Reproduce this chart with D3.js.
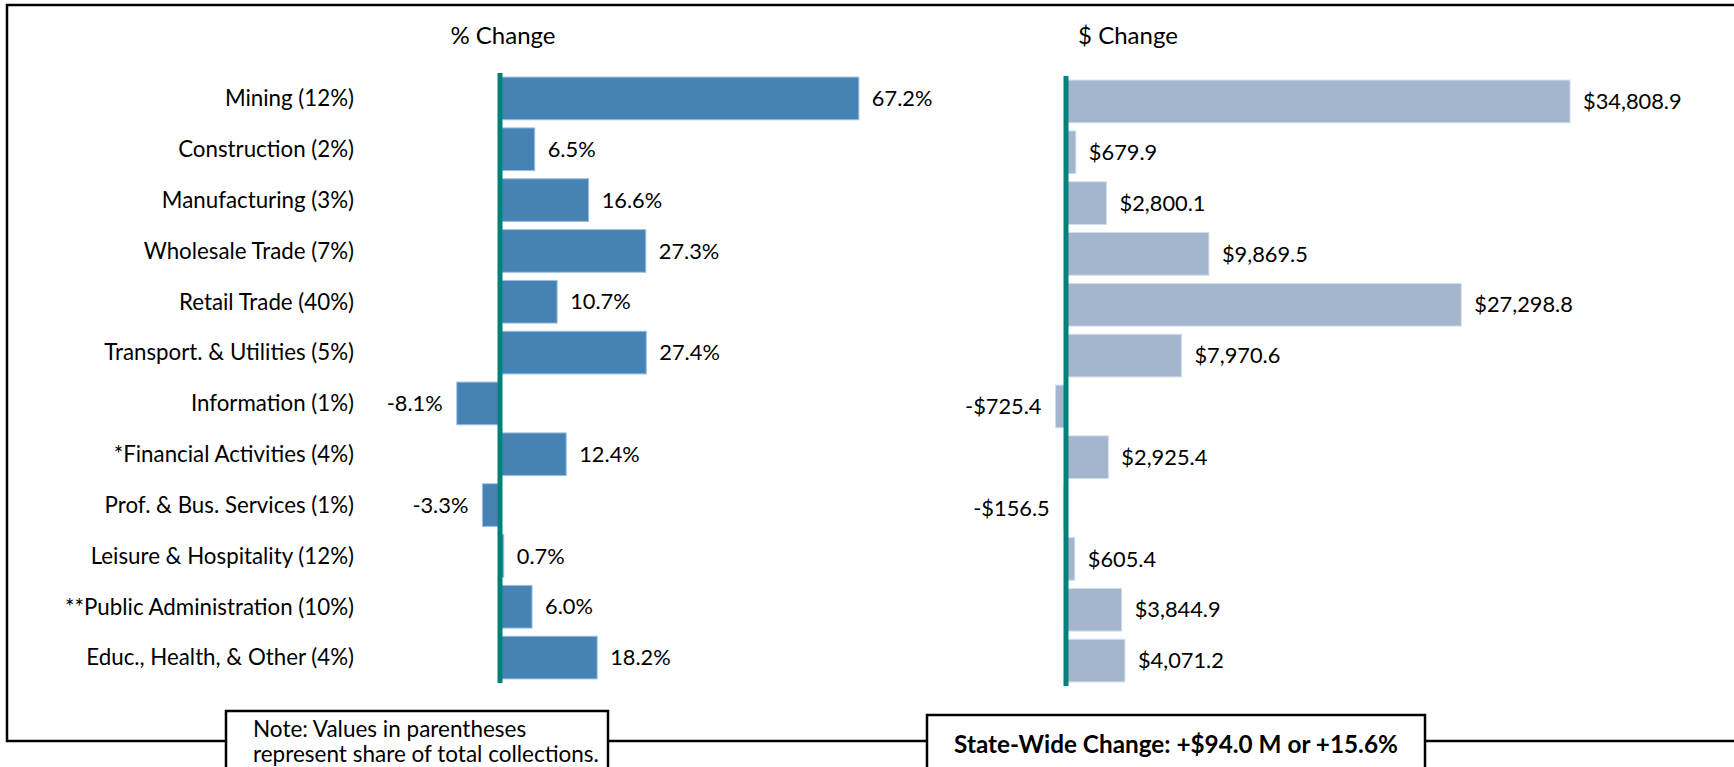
<!DOCTYPE html>
<html>
<head>
<meta charset="utf-8">
<script src="https://cdn.jsdelivr.net/npm/d3@7"></script>
<style>
  body { margin: 0; background: #fff; }
  text { font-family: Lato, "Open Sans", sans-serif; fill: #000; }
</style>
</head>
<body>
<div id="chart-container"></div>
<script>
// Chart data
const categories = [
  "Mining (12%)",
  "Construction (2%)",
  "Manufacturing (3%)",
  "Wholesale Trade (7%)",
  "Retail Trade (40%)",
  "Transport. & Utilities (5%)",
  "Information (1%)",
  "*Financial Activities (4%)",
  "Prof. & Bus. Services (1%)",
  "Leisure & Hospitality (12%)",
  "**Public Administration (10%)",
  "Educ., Health, & Other (4%)"
];
const pctChange = [67.2, 6.5, 16.6, 27.3, 10.7, 27.4, -8.1, 12.4, -3.3, 0.7, 6.0, 18.2];
const dollarChange = [34808.9, 679.9, 2800.1, 9869.5, 27298.8, 7970.6, -725.4, 2925.4, -156.5, 605.4, 3844.9, 4071.2];
const titles = ["% Change", "$ Change"];
const noteLines = ["Note: Values in parentheses", "represent share of total collections."];
const totalText = "State-Wide Change: +$94.0 M or +15.6%";

window.onload = () => {
  const width = 1734, height = 767;

  const svg = d3
    .select("#chart-container")
    .append("svg")
    .attr("width", width)
    .attr("height", height);

  // Outer frame (right edge runs off the picture)
  svg.append("rect")
    .attr("x", 7).attr("y", 5)
    .attr("width", 1800).attr("height", 736)
    .attr("fill", "none")
    .attr("stroke", "#000")
    .attr("stroke-width", 2.5);

  const rows = categories.map((c, i) => ({ cat: c, pct: pctChange[i], usd: dollarChange[i] }));

  // Scales
  const yLeft = d3.scaleBand().domain(categories).range([73, 683])
    .paddingInner(0.16).paddingOuter(0.08);
  const yRight = d3.scaleBand().domain(categories).range([76, 686])
    .paddingInner(0.16).paddingOuter(0.08);
  const xPct = d3.scaleLinear().domain([-10, 70]).range([500 - 53.4, 500 + 373.8]);
  const xUsd = d3.scaleLinear().domain([-5000, 35000]).range([1066 - 72.4, 1066 + 506.8]);

  // plain hyphen for negatives, like the source
  const fmtPct = (d) => (d < 0 ? "-" : "") + d3.format(".1f")(Math.abs(d)) + "%";
  const fmtUsd = (d) => (d < 0 ? "-" : "") + "$" + d3.format(",.1f")(Math.abs(d));

  // Category labels
  svg.append("g")
    .selectAll("text")
    .data(rows)
    .enter()
    .append("text")
    .attr("x", 354)
    .attr("y", (d) => yLeft(d.cat) + yLeft.bandwidth() / 2)
    .attr("dy", "0.35em")
    .attr("text-anchor", "end")
    .style("font-size", "22.3px")
    .text((d) => d.cat);

  function panel(key, x, y, fill, stroke, fmt, title, titleX) {
    const g = svg.append("g");

    g.append("text")
      .attr("x", titleX).attr("y", 44)
      .attr("text-anchor", "middle")
      .style("font-size", "24px")
      .text(title);

    g.selectAll(".bar")
      .data(rows)
      .enter()
      .append("rect")
      .attr("class", "bar")
      .attr("x", (d) => x(Math.min(0, d[key])))
      .attr("y", (d) => y(d.cat))
      .attr("width", (d) => Math.abs(x(d[key]) - x(0)))
      .attr("height", y.bandwidth())
      .attr("fill", fill)
      .attr("stroke", stroke)
      .attr("stroke-width", 1);

    g.selectAll(".bar-label")
      .data(rows)
      .enter()
      .append("text")
      .attr("class", "bar-label")
      .attr("x", (d) => d[key] < 0 ? x(d[key]) - 14 : x(d[key]) + 13)
      .attr("y", (d) => y(d.cat) + y.bandwidth() / 2)
      .attr("dy", "0.35em")
      .attr("text-anchor", (d) => d[key] < 0 ? "end" : "start")
      .style("font-size", "21.8px")
      .text((d) => fmt(d[key]));

    // Zero line
    const r = y.range();
    g.append("line")
      .attr("x1", x(0)).attr("x2", x(0))
      .attr("y1", r[0]).attr("y2", r[1])
      .attr("stroke", "#00827a")
      .attr("stroke-width", 5);
  }

  panel("pct", xPct, yLeft, "#4682b4", "#9fc0e0", fmtPct, titles[0], 503);
  panel("usd", xUsd, yRight, "#a4b5ce", "#d3deec", fmtUsd, titles[1], 1128);

  // Note box
  svg.append("rect")
    .attr("x", 226).attr("y", 711)
    .attr("width", 382).attr("height", 100)
    .attr("fill", "#fff")
    .attr("stroke", "#000")
    .attr("stroke-width", 2.5);
  svg.append("g")
    .selectAll("text")
    .data(noteLines)
    .enter()
    .append("text")
    .attr("x", 253)
    .attr("y", (d, i) => 737 + i * 25)
    .style("font-size", "22.5px")
    .text((d) => d);

  // State-wide box
  svg.append("rect")
    .attr("x", 927).attr("y", 715)
    .attr("width", 498).attr("height", 100)
    .attr("fill", "#fff")
    .attr("stroke", "#000")
    .attr("stroke-width", 2.5);
  svg.append("text")
    .attr("x", 1176).attr("y", 753)
    .attr("text-anchor", "middle")
    .style("font-size", "24.3px")
    .style("font-weight", "bold")
    .text(totalText);
};
</script>
</body>
</html>
